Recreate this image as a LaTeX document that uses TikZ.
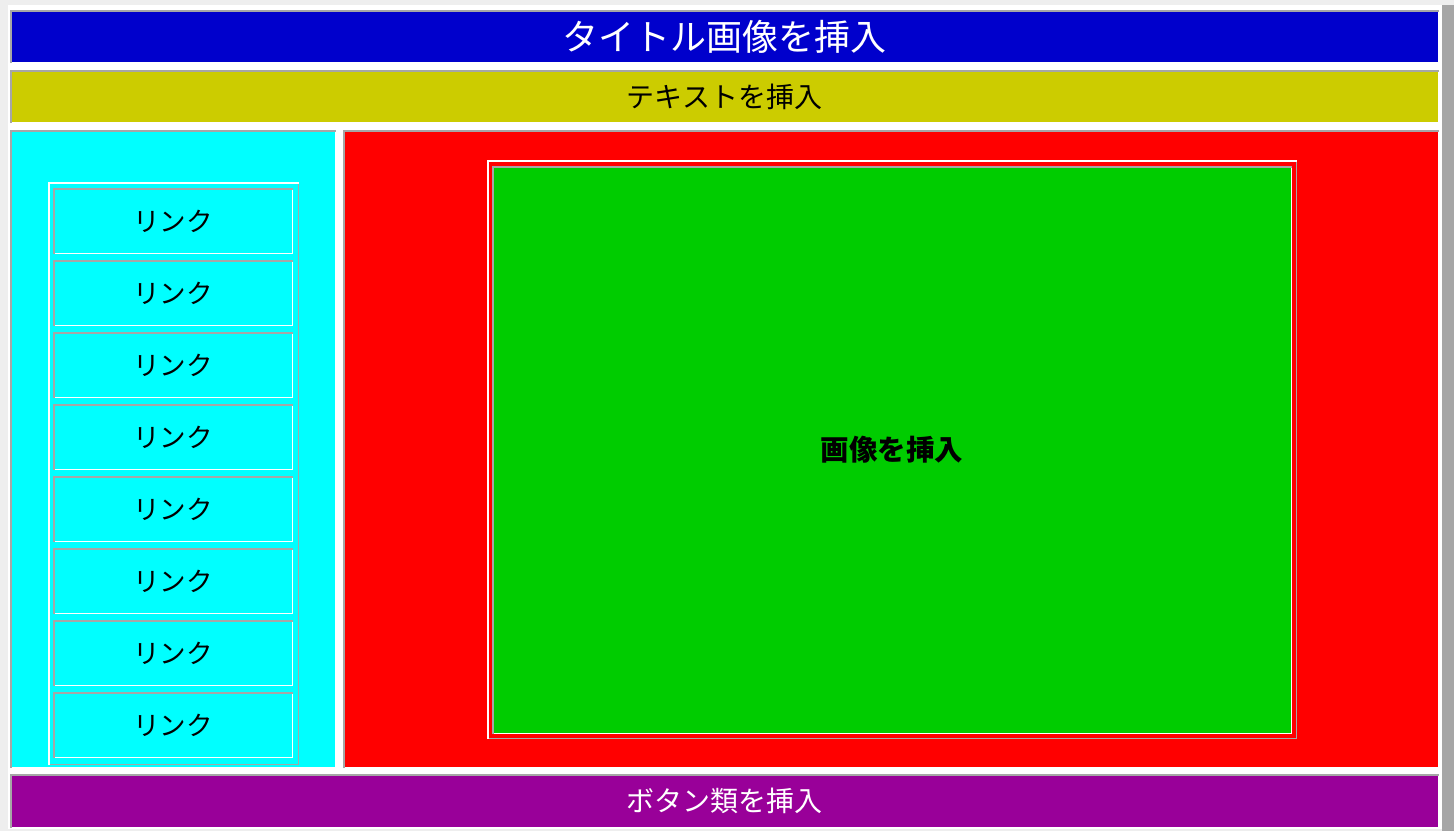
\documentclass[tikz,border=0pt]{standalone}
\usepackage{fontspec}
\newfontfamily\jp{Noto Sans CJK JP}
\definecolor{tblue}{HTML}{0000CC}
\definecolor{tyellow}{HTML}{CCCC00}
\definecolor{tcyan}{HTML}{00FFFF}
\definecolor{tred}{HTML}{FF0000}
\definecolor{tgreen}{HTML}{00CC00}
\definecolor{tpurple}{HTML}{990099}
\definecolor{bgray}{HTML}{A6A6A6}
\definecolor{lgray}{HTML}{EEEEEE}
\tikzset{
  cell/.style={anchor=north west, inner sep=0pt, outer sep=0pt, draw=none, font=\jp},
  shade1/.style={draw=bgray, line width=1.5pt},
  light1/.style={draw=white, line width=1.5pt},
}
\newcommand{\insetbox}[1]{%
  \draw[shade1] ([xshift=0.75pt]#1.south west) -- ([shift={(0.75pt,-0.75pt)}]#1.north west) -- ([yshift=-0.75pt]#1.north east);
  \draw[light1] ([shift={(-0.75pt,-1.5pt)}]#1.north east) -- ([shift={(-0.75pt,0.75pt)}]#1.south east) -- ([shift={(1.5pt,0.75pt)}]#1.south west);}
\newcommand{\outsetbox}[1]{%
  \draw[light1] ([xshift=0.75pt]#1.south west) -- ([shift={(0.75pt,-0.75pt)}]#1.north west) -- ([yshift=-0.75pt]#1.north east);
  \draw[shade1] ([shift={(-0.75pt,-1.5pt)}]#1.north east) -- ([shift={(-0.75pt,0.75pt)}]#1.south east) -- ([shift={(1.5pt,0.75pt)}]#1.south west);}
\begin{document}
\begin{tikzpicture}[x=1pt,y=-1pt]
\useasboundingbox (0,0) rectangle (1454,831);
\fill[white] (0,0) rectangle (1454,831);
\fill[lgray] (0,0) rectangle (8,831);
\fill[lgray] (0,0) rectangle (1454,5);
\fill[lgray] (0,829) rectangle (1454,831);
\fill[bgray] (1442,5) rectangle (1454,831);
% title
\node[cell, fill=tblue, minimum width=1429pt, minimum height=53pt] (title) at (10,10) {};
\node[font=\jp\fontsize{36}{36}\selectfont, text=white] (titletext) at (title.center) {タイトル画像を挿入};
\insetbox{title}
% text row
\node[cell, fill=tyellow, minimum width=1429pt, minimum height=53pt] (textrow) at (10,70) {};
\node[font=\jp\fontsize{28}{28}\selectfont, text=black] (texttext) at (textrow.center) {テキストを挿入};
\insetbox{textrow}
% nav
\node[cell, fill=tcyan, minimum width=326pt, minimum height=638pt] (nav) at (10,130) {};
\insetbox{nav}
\node[cell, fill=tcyan, minimum width=251pt, minimum height=583pt] (navtable) at (48,182) {};
\outsetbox{navtable}
\foreach \k in {0,...,7}{
  \node[cell, fill=tcyan, minimum width=240pt, minimum height=66pt] (link\k) at (53,188+72*\k) {};
  \node[font=\jp\fontsize{26.5}{26.5}\selectfont, text=black] (linktext\k) at (link\k.center) {リンク};
  \insetbox{link\k}
}
% main
\node[cell, fill=tred, minimum width=1096pt, minimum height=638pt] (main) at (343,130) {};
\insetbox{main}
\node[cell, fill=tred, minimum width=810pt, minimum height=579pt] (imgtable) at (487,160) {};
\outsetbox{imgtable}
\node[cell, fill=tgreen, minimum width=800pt, minimum height=568pt] (img) at (492,166) {};
\insetbox{img}
\node[font=\jp\bfseries\fontsize{28.5}{28.5}\selectfont, text=black] (imgtext) at (img.center) {画像を挿入};
% buttons
\node[cell, fill=tpurple, minimum width=1429pt, minimum height=54pt] (buttons) at (10,774) {};
\node[font=\jp\fontsize{28}{28}\selectfont, text=white] (buttonstext) at (buttons.center) {ボタン類を挿入};
\insetbox{buttons}
\end{tikzpicture}
\end{document}
